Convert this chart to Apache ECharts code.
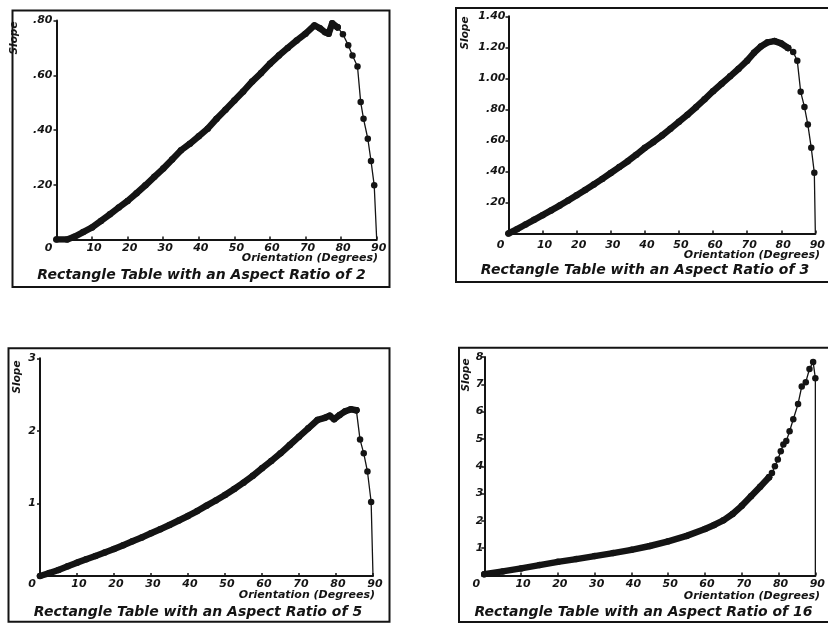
<!DOCTYPE html>
<html>
<head>
<meta charset="utf-8">
<script src="https://cdn.jsdelivr.net/npm/echarts@6/dist/echarts.min.js"></script>
<style>
  html, body { margin: 0; padding: 0; background: #fff; }
  #c { width: 828px; height: 624px; }
</style>
</head>
<body>
<div id="c"></div>
<script>
// ---------- DATA ----------
const xTickLabels = ['0', '10', '20', '30', '40', '50', '60', '70', '80', '90'];

const yLabelsAR2  = ['', '.20', '.40', '.60', '.80'];
const yLabelsAR3  = ['', '.20', '.40', '.60', '.80', '1.00', '1.20', '1.40'];
const yLabelsAR5  = ['', '1', '2', '3'];
const yLabelsAR16 = ['', '1', '2', '3', '4', '5', '6', '7', '8'];

const titles = [
  'Rectangle Table with an Aspect Ratio of 2',
  'Rectangle Table with an Aspect Ratio of 3',
  'Rectangle Table with an Aspect Ratio of 5',
  'Rectangle Table with an Aspect Ratio of 16'
];
const xName = 'Orientation (Degrees)';
const yName = 'Slope';

// Aspect ratio 2
const ar2BodyX = [0, 3, 5, 7.5, 10, 12.5, 15, 17.5, 20, 22.5, 25, 27.5, 30, 32.5, 35, 37.5, 40, 42.5, 45, 47.5, 50, 52.5, 55, 57.5, 60, 62.5, 65, 67.5, 70, 72.5, 74, 75.5, 76.5, 77.5, 79];
const ar2BodyY = [0, 0, 0.01, 0.027, 0.044, 0.068, 0.092, 0.117, 0.141, 0.169, 0.198, 0.229, 0.259, 0.292, 0.326, 0.35, 0.377, 0.405, 0.441, 0.474, 0.508, 0.541, 0.577, 0.608, 0.642, 0.672, 0.70, 0.727, 0.752, 0.782, 0.772, 0.757, 0.752, 0.79, 0.775];
const ar2TailX = [79, 80.5, 82, 83.2, 84.6, 85.5, 86.3, 87.5, 88.4, 89.3, 90];
const ar2TailY = [0.775, 0.75, 0.71, 0.672, 0.632, 0.502, 0.441, 0.368, 0.287, 0.198, 0];

// Aspect ratio 3
const ar3BodyX = [0, 2.5, 5, 7.5, 10, 12.5, 15, 17.5, 20, 22.5, 25, 27.5, 30, 32.5, 35, 37.5, 40, 42.5, 45, 47.5, 50, 52.5, 55, 57.5, 60, 62.5, 65, 67.5, 70, 72, 74, 76, 78, 80, 82];
const ar3BodyY = [0, 0.028, 0.058, 0.088, 0.118, 0.149, 0.18, 0.213, 0.247, 0.281, 0.316, 0.352, 0.39, 0.428, 0.466, 0.508, 0.552, 0.59, 0.631, 0.675, 0.72, 0.766, 0.814, 0.865, 0.917, 0.965, 1.013, 1.062, 1.114, 1.165, 1.205, 1.232, 1.24, 1.225, 1.196];
const ar3TailX = [82, 83.5, 84.7, 85.7, 86.8, 87.8, 88.8, 89.7, 90];
const ar3TailY = [1.196, 1.17, 1.114, 0.913, 0.816, 0.702, 0.552, 0.391, 0];

// Aspect ratio 5
const ar5BodyX = [0, 2.5, 5, 7.5, 10, 12.5, 15, 17.5, 20, 22.5, 25, 27.5, 30, 32.5, 35, 37.5, 40, 42.5, 45, 47.5, 50, 52.5, 55, 57.5, 60, 62.5, 65, 67.5, 70, 72.5, 75, 77, 78.3, 79.5, 81, 82.5, 84, 85.5];
const ar5BodyY = [0, 0.04, 0.083, 0.133, 0.184, 0.23, 0.276, 0.323, 0.372, 0.425, 0.478, 0.532, 0.588, 0.645, 0.703, 0.765, 0.827, 0.895, 0.969, 1.04, 1.116, 1.2, 1.286, 1.38, 1.484, 1.585, 1.69, 1.805, 1.92, 2.035, 2.15, 2.18, 2.21, 2.16, 2.22, 2.27, 2.297, 2.285];
const ar5TailX = [85.5, 86.5, 87.5, 88.5, 89.5, 90];
const ar5TailY = [2.285, 1.88, 1.69, 1.44, 1.02, 0];

// Aspect ratio 16
const ar16BodyX = [0, 5, 10, 15, 20, 25, 30, 35, 40, 45, 50, 55, 60, 62.5, 65, 67.5, 70, 72.5, 75, 77.4];
const ar16BodyY = [0.05, 0.15, 0.26, 0.38, 0.5, 0.6, 0.71, 0.82, 0.94, 1.08, 1.25, 1.45, 1.7, 1.85, 2.02, 2.25, 2.55, 2.9, 3.25, 3.6];
const ar16TailX = [77.4, 78.2, 79, 79.8, 80.6, 81.3, 82.1, 83, 84, 85.3, 86.3, 87.4, 88.4, 89.4, 90, 90];
const ar16TailY = [3.6, 3.75, 4.0, 4.25, 4.55, 4.8, 4.92, 5.28, 5.72, 6.28, 6.92, 7.08, 7.56, 7.82, 7.22, 0];

// ---------- CHART ----------
const INK = '#141414';
const FAM = '"DejaVu Sans", "Liberation Sans", sans-serif';

const panels = [
  { grid: { left: 56.5, top: 20.5, width: 320.2, height: 219 }, ymax: 0.8, yint: 0.2, ylabels: yLabelsAR2,
    body: [ar2BodyX, ar2BodyY], tail: [ar2TailX, ar2TailY], xMargin: 3, yMargin: 4 },
  { grid: { left: 508.5, top: 16.3, width: 310, height: 217.2 }, ymax: 1.4, yint: 0.2, ylabels: yLabelsAR3,
    body: [ar3BodyX, ar3BodyY], tail: [ar3TailX, ar3TailY], xMargin: 6, yMargin: 3 },
  { grid: { left: 40, top: 358.3, width: 333, height: 217.7 }, ymax: 3, yint: 1, ylabels: yLabelsAR5,
    body: [ar5BodyX, ar5BodyY], tail: [ar5TailX, ar5TailY], xMargin: 3, yMargin: 4 },
  { grid: { left: 484.3, top: 357, width: 334.7, height: 218.5 }, ymax: 8, yint: 1, ylabels: yLabelsAR16,
    body: [ar16BodyX, ar16BodyY], tail: [ar16TailX, ar16TailY], xMargin: 3, yMargin: 1 }
];

const zip = (xs, ys) => xs.map((x, i) => [x, ys[i]]);

const labelFont = { color: INK, fontFamily: FAM, fontWeight: 'bold', fontStyle: 'italic', fontSize: 11 };

const option = {
  animation: false,
  backgroundColor: '#ffffff',
  grid: panels.map(p => Object.assign({ containLabel: false }, p.grid)),
  xAxis: panels.map((p, k) => ({
    type: 'value', gridIndex: k, min: 0, max: 90, interval: 10,
    axisLine: { show: true, onZero: false, lineStyle: { color: INK, width: 2 } },
    axisTick: { show: true, inside: true, length: 3, lineStyle: { color: INK, width: 1.5 } },
    splitLine: { show: false },
    axisLabel: Object.assign({}, labelFont, {
      margin: p.xMargin,
      padding: [0, 0, 0, 4],
      formatter: (v) => {
        const i = Math.round(v / 10);
        return i === 0 ? '{z|' + xTickLabels[0] + '}' : xTickLabels[i];
      },
      rich: { z: Object.assign({}, labelFont, { padding: [0, 20, 0, 0] }) }
    })
  })),
  yAxis: panels.map((p, k) => ({
    type: 'value', gridIndex: k, min: 0, max: p.ymax, interval: p.yint,
    axisLine: { show: true, onZero: false, lineStyle: { color: INK, width: 2 } },
    axisTick: { show: true, inside: false, length: 3, lineStyle: { color: INK, width: 1.5 } },
    splitLine: { show: false },
    axisLabel: Object.assign({}, labelFont, {
      margin: p.yMargin,
      formatter: (v) => p.ylabels[Math.round(v / p.yint)]
    })
  })),
  series: [].concat(...panels.map((p, k) => [
    {
      type: 'line', xAxisIndex: k, yAxisIndex: k,
      data: zip(p.body[0], p.body[1]),
      showSymbol: true, symbol: 'circle', symbolSize: 6.5,
      itemStyle: { color: INK },
      lineStyle: { color: INK, width: 6.5, cap: 'round', join: 'round' },
      silent: true, z: 3
    },
    {
      type: 'line', xAxisIndex: k, yAxisIndex: k,
      data: zip(p.tail[0], p.tail[1]).map(d => d[1] === 0 ? { value: d, symbol: 'none' } : d),
      showSymbol: true, symbol: 'circle', symbolSize: 6.5,
      itemStyle: { color: INK },
      lineStyle: { color: INK, width: 1.3 },
      silent: true, z: 3
    }
  ])),
  graphic: [
    // frames
    { type: 'rect', shape: { x: 12.5, y: 10.5, width: 377, height: 276.5 }, style: { fill: 'none', stroke: INK, lineWidth: 2 }, silent: true },
    { type: 'rect', shape: { x: 456, y: 8, width: 380, height: 274 }, style: { fill: 'none', stroke: INK, lineWidth: 2 }, silent: true },
    { type: 'rect', shape: { x: 8.5, y: 348.3, width: 381, height: 273.5 }, style: { fill: 'none', stroke: INK, lineWidth: 2 }, silent: true },
    { type: 'rect', shape: { x: 459, y: 347.7, width: 380, height: 274.3 }, style: { fill: 'none', stroke: INK, lineWidth: 2 }, silent: true },
    // y names
    ...[[14, 38], [465.5, 33], [17.5, 377], [466, 375]].map(([x, y]) => ({
      type: 'text', x: x, y: y, rotation: Math.PI / 2, silent: true,
      style: { text: yName, font: 'italic bold 10.5px ' + FAM, fill: INK,
               align: 'center', verticalAlign: 'middle', textAlign: 'center', textVerticalAlign: 'middle' }
    })),
    // x names
    ...[[378, 258], [820, 255], [375, 595], [820, 596]].map(([x, y]) => ({
      type: 'text', x: x, y: y, silent: true,
      style: { text: xName, font: 'italic bold 11px ' + FAM, fill: INK,
               align: 'right', verticalAlign: 'middle', textAlign: 'right', textVerticalAlign: 'middle' }
    })),
    // titles
    ...[[201.5, 275], [645, 270], [198, 612], [643.5, 612]].map(([x, y], i) => ({
      type: 'text', x: x, y: y, silent: true,
      style: { text: titles[i], font: 'italic bold 14px ' + FAM, fill: INK,
               align: 'center', verticalAlign: 'middle', textAlign: 'center', textVerticalAlign: 'middle' }
    }))
  ]
};

const chart = echarts.init(document.getElementById('c'), null, { renderer: 'canvas' });
chart.setOption(option);
</script>
</body>
</html>
